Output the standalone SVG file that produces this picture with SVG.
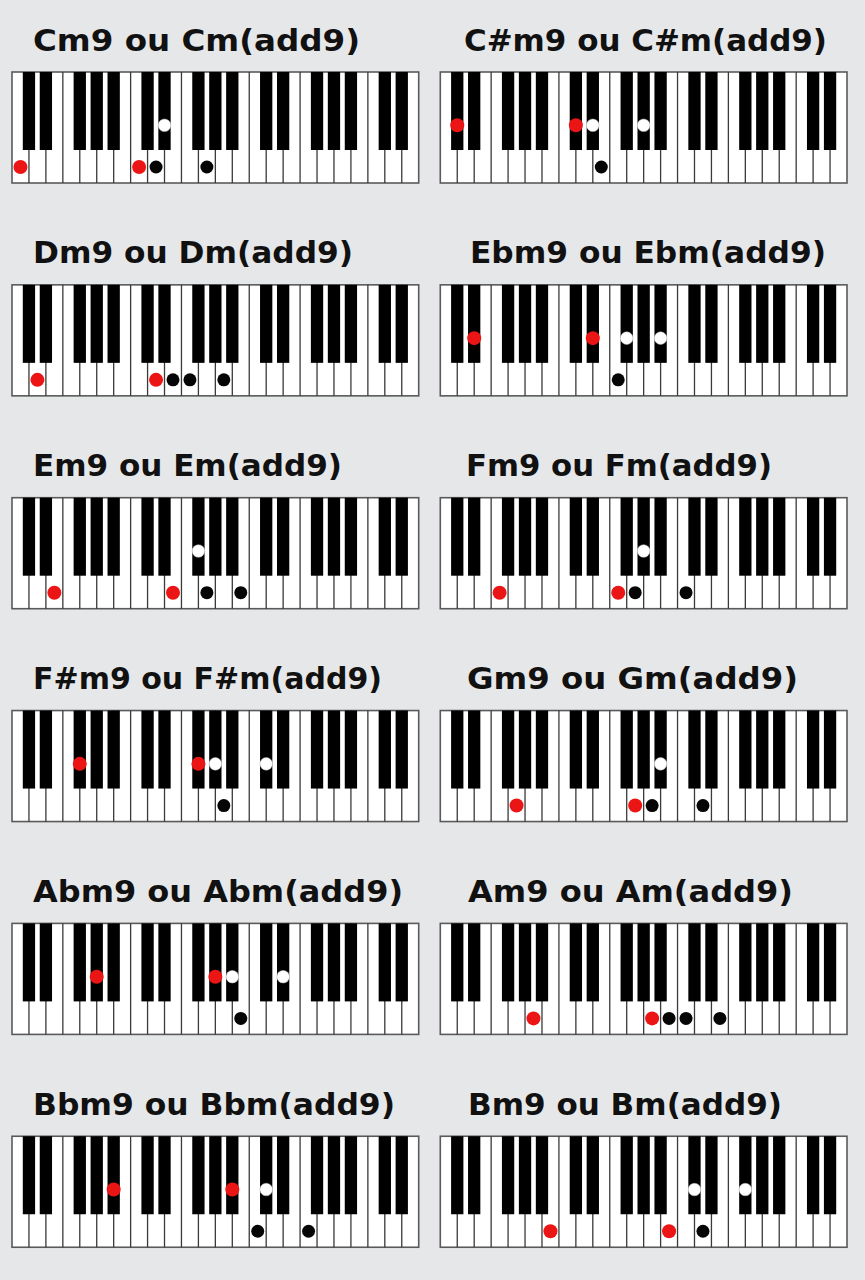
<svg xmlns="http://www.w3.org/2000/svg" xmlns:xlink="http://www.w3.org/1999/xlink" width="865" height="1280" viewBox="0 0 865 1280">
<style>
.t{font-family:"DejaVu Sans","Liberation Sans",sans-serif;font-weight:bold;font-size:31px;fill:#111}
.wk{fill:#fff;stroke:#5a5a5a;stroke-width:1.6}
.ln{stroke:#3a3a3a;stroke-width:1.3}
.bk{fill:#000}
.r{fill:#ec1515}
.d{fill:#050505}
.w{fill:#fff;stroke:#bbb;stroke-width:0.5}
</style>
<defs>
<g id="kb">
<rect class="wk" x="0" y="0" width="406.7" height="111"/>
<path class="ln" d="M16.95 0V111M33.89 0V111M50.84 0V111M67.78 0V111M84.73 0V111M101.68 0V111M118.62 0V111M135.57 0V111M152.51 0V111M169.46 0V111M186.41 0V111M203.35 0V111M220.3 0V111M237.24 0V111M254.19 0V111M271.14 0V111M288.08 0V111M305.03 0V111M321.97 0V111M338.92 0V111M355.87 0V111M372.81 0V111M389.76 0V111"/>
<g class="bk">
<rect x="10.8" y="0" width="12.3" height="78"/>
<rect x="27.74" y="0" width="12.3" height="78"/>
<rect x="61.63" y="0" width="12.3" height="78"/>
<rect x="78.58" y="0" width="12.3" height="78"/>
<rect x="95.53" y="0" width="12.3" height="78"/>
<rect x="129.42" y="0" width="12.3" height="78"/>
<rect x="146.36" y="0" width="12.3" height="78"/>
<rect x="180.26" y="0" width="12.3" height="78"/>
<rect x="197.2" y="0" width="12.3" height="78"/>
<rect x="214.15" y="0" width="12.3" height="78"/>
<rect x="248.04" y="0" width="12.3" height="78"/>
<rect x="264.99" y="0" width="12.3" height="78"/>
<rect x="298.88" y="0" width="12.3" height="78"/>
<rect x="315.82" y="0" width="12.3" height="78"/>
<rect x="332.77" y="0" width="12.3" height="78"/>
<rect x="366.66" y="0" width="12.3" height="78"/>
<rect x="383.61" y="0" width="12.3" height="78"/>
</g>
</g>
</defs>
<rect x="0" y="0" width="865" height="1280" fill="#e6e7e9"/>

<g id="cm9" transform="translate(12,72)">
<text class="t" x="21" y="-21.5" textLength="327" lengthAdjust="spacingAndGlyphs">Cm9 ou Cm(add9)</text>
<use href="#kb" xlink:href="#kb"/>
<circle class="r" cx="8.47" cy="95" r="7"/>
<circle class="r" cx="127.1" cy="95" r="7"/>
<circle class="d" cx="144.04" cy="95" r="6.5"/>
<circle class="w" cx="152.51" cy="53.3" r="6.3"/>
<circle class="d" cx="194.88" cy="95" r="6.5"/>
</g>

<g id="csm9" transform="translate(440.3,72)">
<text class="t" x="23.7" y="-21.5" textLength="363" lengthAdjust="spacingAndGlyphs">C#m9 ou C#m(add9)</text>
<use href="#kb" xlink:href="#kb"/>
<circle class="r" cx="16.95" cy="53.3" r="7"/>
<circle class="r" cx="135.57" cy="53.3" r="7"/>
<circle class="w" cx="152.51" cy="53.3" r="6.3"/>
<circle class="d" cx="160.99" cy="95" r="6.5"/>
<circle class="w" cx="203.35" cy="53.3" r="6.3"/>
</g>

<g id="dm9" transform="translate(12,284.85)">
<text class="t" x="21" y="-21.5" textLength="320" lengthAdjust="spacingAndGlyphs">Dm9 ou Dm(add9)</text>
<use href="#kb" xlink:href="#kb"/>
<circle class="r" cx="25.42" cy="95" r="7"/>
<circle class="r" cx="144.04" cy="95" r="7"/>
<circle class="d" cx="160.99" cy="95" r="6.5"/>
<circle class="d" cx="177.93" cy="95" r="6.5"/>
<circle class="d" cx="211.83" cy="95" r="6.5"/>
</g>

<g id="ebm9" transform="translate(440.3,284.85)">
<text class="t" x="29.7" y="-21.5" textLength="356" lengthAdjust="spacingAndGlyphs">Ebm9 ou Ebm(add9)</text>
<use href="#kb" xlink:href="#kb"/>
<circle class="r" cx="33.89" cy="53.3" r="7"/>
<circle class="r" cx="152.51" cy="53.3" r="7"/>
<circle class="d" cx="177.93" cy="95" r="6.5"/>
<circle class="w" cx="186.41" cy="53.3" r="6.3"/>
<circle class="w" cx="220.3" cy="53.3" r="6.3"/>
</g>

<g id="em9" transform="translate(12,497.7)">
<text class="t" x="21" y="-21.5" textLength="309" lengthAdjust="spacingAndGlyphs">Em9 ou Em(add9)</text>
<use href="#kb" xlink:href="#kb"/>
<circle class="r" cx="42.37" cy="95" r="7"/>
<circle class="r" cx="160.99" cy="95" r="7"/>
<circle class="w" cx="186.41" cy="53.3" r="6.3"/>
<circle class="d" cx="194.88" cy="95" r="6.5"/>
<circle class="d" cx="228.77" cy="95" r="6.5"/>
</g>

<g id="fm9" transform="translate(440.3,497.7)">
<text class="t" x="25.7" y="-21.5" textLength="306" lengthAdjust="spacingAndGlyphs">Fm9 ou Fm(add9)</text>
<use href="#kb" xlink:href="#kb"/>
<circle class="r" cx="59.31" cy="95" r="7"/>
<circle class="r" cx="177.93" cy="95" r="7"/>
<circle class="d" cx="194.88" cy="95" r="6.5"/>
<circle class="w" cx="203.35" cy="53.3" r="6.3"/>
<circle class="d" cx="245.72" cy="95" r="6.5"/>
</g>

<g id="fsm9" transform="translate(12,710.55)">
<text class="t" x="21" y="-21.5" textLength="349" lengthAdjust="spacingAndGlyphs">F#m9 ou F#m(add9)</text>
<use href="#kb" xlink:href="#kb"/>
<circle class="r" cx="67.78" cy="53.3" r="7"/>
<circle class="r" cx="186.41" cy="53.3" r="7"/>
<circle class="w" cx="203.35" cy="53.3" r="6.3"/>
<circle class="d" cx="211.83" cy="95" r="6.5"/>
<circle class="w" cx="254.19" cy="53.3" r="6.3"/>
</g>

<g id="gm9" transform="translate(440.3,710.55)">
<text class="t" x="26.7" y="-21.5" textLength="331" lengthAdjust="spacingAndGlyphs">Gm9 ou Gm(add9)</text>
<use href="#kb" xlink:href="#kb"/>
<circle class="r" cx="76.26" cy="95" r="7"/>
<circle class="r" cx="194.88" cy="95" r="7"/>
<circle class="d" cx="211.83" cy="95" r="6.5"/>
<circle class="w" cx="220.3" cy="53.3" r="6.3"/>
<circle class="d" cx="262.66" cy="95" r="6.5"/>
</g>

<g id="abm9" transform="translate(12,923.4)">
<text class="t" x="21" y="-21.5" textLength="370" lengthAdjust="spacingAndGlyphs">Abm9 ou Abm(add9)</text>
<use href="#kb" xlink:href="#kb"/>
<circle class="r" cx="84.73" cy="53.3" r="7"/>
<circle class="r" cx="203.35" cy="53.3" r="7"/>
<circle class="w" cx="220.3" cy="53.3" r="6.3"/>
<circle class="d" cx="228.77" cy="95" r="6.5"/>
<circle class="w" cx="271.14" cy="53.3" r="6.3"/>
</g>

<g id="am9" transform="translate(440.3,923.4)">
<text class="t" x="27.7" y="-21.5" textLength="325" lengthAdjust="spacingAndGlyphs">Am9 ou Am(add9)</text>
<use href="#kb" xlink:href="#kb"/>
<circle class="r" cx="93.2" cy="95" r="7"/>
<circle class="r" cx="211.83" cy="95" r="7"/>
<circle class="d" cx="228.77" cy="95" r="6.5"/>
<circle class="d" cx="245.72" cy="95" r="6.5"/>
<circle class="d" cx="279.61" cy="95" r="6.5"/>
</g>

<g id="bbm9" transform="translate(12,1136.25)">
<text class="t" x="21" y="-21.5" textLength="362" lengthAdjust="spacingAndGlyphs">Bbm9 ou Bbm(add9)</text>
<use href="#kb" xlink:href="#kb"/>
<circle class="r" cx="101.68" cy="53.3" r="7"/>
<circle class="r" cx="220.3" cy="53.3" r="7"/>
<circle class="d" cx="245.72" cy="95" r="6.5"/>
<circle class="w" cx="254.19" cy="53.3" r="6.3"/>
<circle class="d" cx="296.56" cy="95" r="6.5"/>
</g>

<g id="bm9" transform="translate(440.3,1136.25)">
<text class="t" x="27.7" y="-21.5" textLength="314" lengthAdjust="spacingAndGlyphs">Bm9 ou Bm(add9)</text>
<use href="#kb" xlink:href="#kb"/>
<circle class="r" cx="110.15" cy="95" r="7"/>
<circle class="r" cx="228.77" cy="95" r="7"/>
<circle class="w" cx="254.19" cy="53.3" r="6.3"/>
<circle class="d" cx="262.66" cy="95" r="6.5"/>
<circle class="w" cx="305.03" cy="53.3" r="6.3"/>
</g>

<g id="connectors"/>
</svg>
